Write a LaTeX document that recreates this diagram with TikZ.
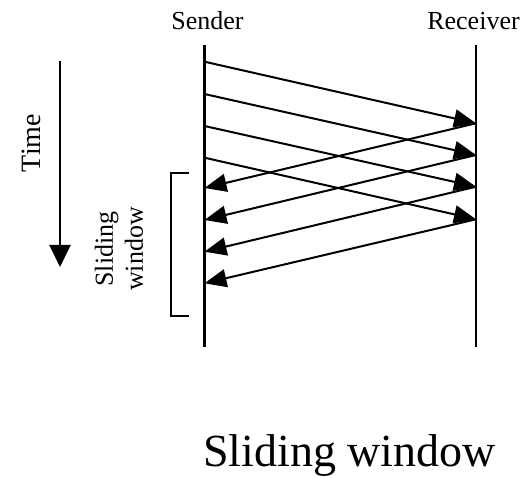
\documentclass[tikz,border=0pt]{standalone}
\usepackage{fontspec}
\setmainfont{Liberation Serif}
\usetikzlibrary{arrows.meta}
\begin{document}
\begin{tikzpicture}[x=1pt,y=-1pt,
  lifeline/.style={line width=2.2pt},
  msg/.style={line width=2pt,-{Triangle[length=22pt,width=18pt]}},
  lbl/.style={font=\fontsize{26}{30}\selectfont, inner sep=0pt}]
\useasboundingbox (0,0) rectangle (527,478);

% lifelines
\coordinate (stop) at (204.5,45);
\coordinate (sbot) at (204.5,347);
\coordinate (rtop) at (476,45);
\coordinate (rbot) at (476,347);
\draw[lifeline] (stop) -- (sbot);
\draw[lifeline] (rtop) -- (rbot);

% labels
\node[lbl, anchor=base] (sender) at (207.5,29.3) {Sender};
\node[lbl, anchor=base] (receiver) at (473.5,29.3) {Receiver};

% frames sent
\foreach \i/\y in {1/61.7,2/94,3/126,4/157.7} {
  \coordinate (s\i) at (204.5,\y);
}
\foreach \i/\y in {1/123.3,2/155,3/186.7,4/219.3} {
  \coordinate (r\i) at (476,\y);
}
% acknowledgements returned
\foreach \i/\y in {1/188,2/220,3/251.7,4/283.3} {
  \coordinate (a\i) at (204.5,\y);
}
\foreach \i in {1,...,4} {
  \draw[msg] (s\i) -- (r\i);
  \draw[msg] (r\i) -- (a\i);
}

% window bracket
\coordinate (b1) at (189,172.7);
\coordinate (b2) at (171,172.7);
\coordinate (b3) at (171,316);
\coordinate (b4) at (189,316);
\draw[line width=2pt] (b1) -- (b2) -- (b3) -- (b4);
\node[lbl, rotate=90, align=center] (win) at (119,249) {Sliding\\window};

% time axis
\coordinate (t0) at (60,61);
\coordinate (t1) at (60,267);
\draw[line width=2pt,-{Triangle[length=22pt,width=21pt]}] (t0) -- (t1);
\node[lbl, rotate=90, font=\fontsize{28}{32}\selectfont] (time) at (31.7,143) {Time};

% title
\node[inner sep=0pt, anchor=base, font=\fontsize{46}{52}\selectfont] (title) at (349.5,466) {Sliding window};
\end{tikzpicture}
\end{document}
